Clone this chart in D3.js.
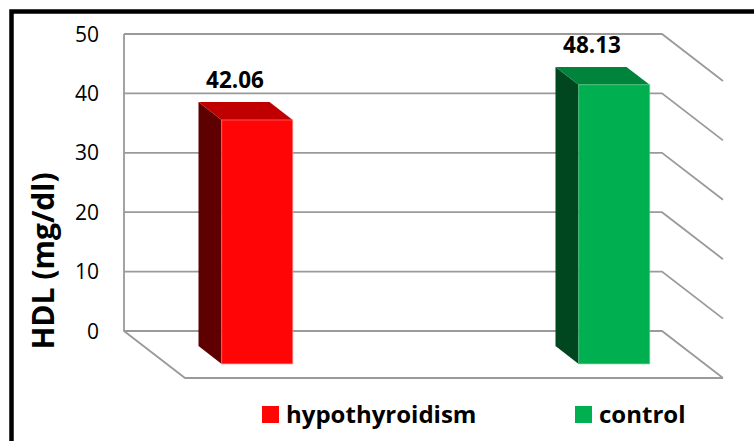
<!DOCTYPE html>
<html>
<head>
<meta charset="utf-8">
<script src="https://cdn.jsdelivr.net/npm/d3@7"></script>
<style>
  html, body { margin: 0; padding: 0; background: #fff; }
  svg { display: block; }
  text { font-family: "Open Sans", sans-serif; }
</style>
</head>
<body>
<svg id="chart" width="754" height="441"></svg>
<script>
// HDL by group
const series = ["hypothyroidism", "control"];
const values = [42.06, 48.13];
const yTicks = [0, 10, 20, 30, 40, 50];
const frontColors = ["#ff0505", "#00b050"];
const edgeColors = ["#ff8a8a", "#5fd08f"];
const topColors = ["#c00000", "#00843c"];
const sideColors = ["#5e0000", "#00461f"];

const svg = d3.select("#chart");

// back wall and oblique depth of the 3-D box
const wall = { left: 124, right: 662, top: 34, base: 331 };
const depth = { dx: 61, dy: 47 };
const barBack = 0.32, barFront = 0.70;

const y = d3.scaleLinear().domain([0, 50]).range([wall.base, wall.top]);
const barH = d3.scaleLinear().domain([0, 50]).range([0, 290]);
const x = d3.scaleBand().domain(series).range([wall.left, wall.right])
  .paddingInner(0.801).paddingOuter(0.154);

// outer frame
svg.append("rect")
  .attr("x", 11.5).attr("y", 11.5).attr("width", 760).attr("height", 460)
  .attr("fill", "none").attr("stroke", "#000").attr("stroke-width", 4.5);

const grid = svg.append("g").attr("stroke", "#9a9a9a").attr("stroke-width", 1.8).attr("fill", "none");

// gridlines on back wall plus side wall
grid.selectAll("path.g").data(yTicks).join("path")
  .attr("class", "g")
  .attr("d", d => {
    const yy = y(d);
    return `M${wall.left},${yy}H${wall.right}L${wall.right + depth.dx},${yy + depth.dy}`;
  });
// left edge of wall and floor outline
grid.append("path")
  .attr("d", `M${wall.left},${y(50)}V${y(0)}L${wall.left + depth.dx},${y(0) + depth.dy}H${wall.right + depth.dx}`);

// y tick labels
svg.append("g").selectAll("text").data(yTicks).join("text")
  .attr("x", 99).attr("y", d => y(d)).attr("dy", "0.36em")
  .attr("text-anchor", "end").attr("font-size", 21).attr("fill", "#000")
  .text(d => d);

// axis title
svg.append("text")
  .attr("transform", "translate(54,261) rotate(-90)")
  .attr("text-anchor", "middle").attr("font-size", 30).attr("font-weight", "bold")
  .text("HDL (mg/dl)");

// 3-D bars
const bars = svg.append("g").selectAll("g").data(series).join("g");
bars.each(function (s, i) {
  const g = d3.select(this);
  const h = barH(values[i]);
  const w = x.bandwidth();
  const bx = x(s) + barBack * depth.dx, by = wall.base + barBack * depth.dy;
  const fx = x(s) + barFront * depth.dx, fy = wall.base + barFront * depth.dy;
  g.append("polygon").attr("fill", sideColors[i])
    .attr("points", [[bx, by - h], [fx, fy - h], [fx, fy], [bx, by]].join(" "));
  g.append("polygon").attr("fill", topColors[i])
    .attr("points", [[bx, by - h], [bx + w, by - h], [fx + w, fy - h], [fx, fy - h]].join(" "));
  g.append("rect").attr("fill", frontColors[i])
    .attr("stroke", edgeColors[i]).attr("stroke-width", 1).attr("stroke-opacity", 0.6)
    .attr("x", fx).attr("y", fy - h).attr("width", w).attr("height", h);
  g.append("text")
    .attr("x", bx + w / 2 + 1).attr("y", by - h - 14)
    .attr("text-anchor", "middle").attr("font-size", 22.5).attr("font-weight", "bold")
    .text(values[i].toFixed(2));
});

// legend
const legendX = [262, 575];
const legend = svg.append("g").selectAll("g").data(series).join("g")
  .attr("transform", (d, i) => `translate(${legendX[i]},406)`);
legend.append("rect").attr("width", 17).attr("height", 17).attr("fill", (d, i) => frontColors[i]);
legend.append("text").attr("x", 24).attr("y", 16.5)
  .attr("font-size", 24).attr("font-weight", "bold").text(d => d);
</script>
</body>
</html>
